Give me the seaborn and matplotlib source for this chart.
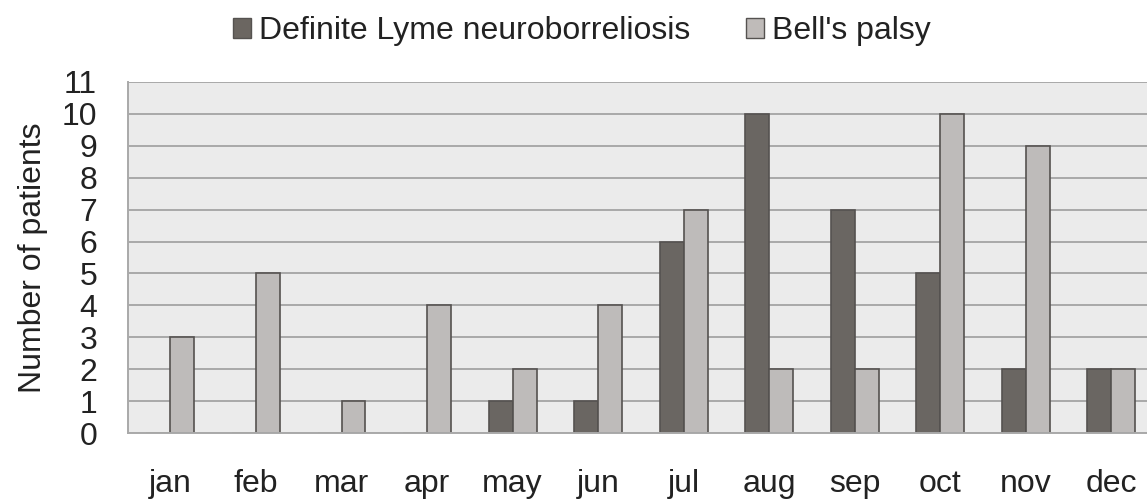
import numpy as np
import pandas as pd
import matplotlib
matplotlib.use('Agg')
import matplotlib.pyplot as plt
import seaborn as sns
from matplotlib.patches import Patch

# data
months = ['jan', 'feb', 'mar', 'apr', 'may', 'jun', 'jul', 'aug', 'sep', 'oct', 'nov', 'dec']
lyme = [0, 0, 0, 0, 1, 1, 6, 10, 7, 5, 2, 2]
bells = [3, 5, 1, 4, 2, 4, 7, 2, 2, 10, 9, 2]
series = ['Definite Lyme neuroborreliosis', "Bell's palsy"]
colors = ['#6b6661', '#bfbbb9']

df = pd.DataFrame({'month': months * 2,
                   'patients': lyme + bells,
                   'group': [series[0]] * 12 + [series[1]] * 12})

sns.set_style('white')
plt.rcParams['font.family'] = ['Liberation Sans', 'DejaVu Sans']

fig = plt.figure(figsize=(11.47, 5.03), dpi=100)
# axes runs past the right edge, the reference is cropped there
ax = fig.add_axes([0.1113, 0.1386, 0.895, 0.699])
ax.set_facecolor('#ebebeb')

sns.barplot(data=df, x='month', y='patients', hue='group', order=months,
            hue_order=series, palette=colors, width=0.56,
            edgecolor='#555250', linewidth=1.2, ax=ax, legend=False)

ax.set_ylim(0, 11)
ax.set_xlim(-0.5, 11.5)
ax.set_yticks(range(0, 12))
ax.yaxis.grid(True, color='#a9a9a9', linewidth=1.4)
ax.set_axisbelow(True)

for side in ['top', 'right']:
    ax.spines[side].set_visible(False)
for side in ['left', 'bottom']:
    ax.spines[side].set_color('#a9a9a9')
    ax.spines[side].set_linewidth(1.4)

ax.tick_params(axis='y', length=8, width=1.4, color='#a9a9a9', pad=14,
               labelsize=23, labelcolor='#222222')
ax.tick_params(axis='x', which='major', length=0, pad=26, labelsize=23,
               labelcolor='#222222')
ax.set_xticks(np.arange(-0.5, 12, 1), minor=True)
ax.tick_params(axis='x', which='minor', length=6.5, width=1.4, color='#a9a9a9')

ax.set_xlabel('')
ax.set_ylabel('Number of patients', fontsize=23, color='#222222')
ax.yaxis.set_label_coords(-0.078, 0.5)

handles = [Patch(facecolor=c, edgecolor='#555250') for c in colors]
fig.legend(handles, series, loc='center', bbox_to_anchor=(0.5076, 0.938),
           ncol=2, frameon=False, fontsize=23, handlelength=0.55,
           handleheight=0.55, handletextpad=0.27, columnspacing=1.74,
           labelcolor='#222222', borderpad=0)

fig.savefig('out.png', dpi=100)
